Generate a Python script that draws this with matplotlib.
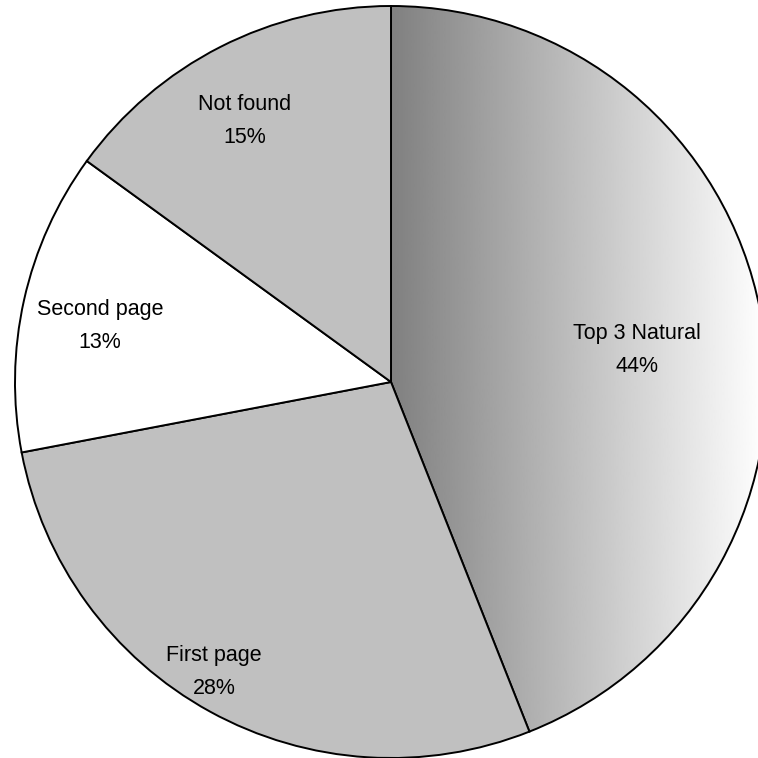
import numpy as np
import matplotlib
matplotlib.use("Agg")
import matplotlib.pyplot as plt

plt.rcParams["font.family"] = ["Liberation Sans", "DejaVu Sans"]

categories = ["Top 3 Natural", "First page", "Second page", "Not found"]
shares = [44, 28, 13, 15]

# label anchors in pixel space (x from left, y from top)
label_xy = [(637, 350), (214, 672), (100, 326), (245, 121)]

W = H = 758
fig = plt.figure(figsize=(W / 100, H / 100), dpi=100)
ax = fig.add_axes([0, 0, 1, 1])

cx, cy, R = 391, 376, 376
colors = ["none", "#c0c0c0", "#ffffff", "#c0c0c0"]
wedges, _ = ax.pie(shares, startangle=90, counterclock=False,
                   center=(cx, cy), radius=R, colors=colors, frame=True,
                   wedgeprops=dict(edgecolor="black", linewidth=1.4))

# horizontal grey-to-white gradient inside the first slice
grad = np.linspace(128 / 255, 1.0, 256).reshape(1, -1)
img = ax.imshow(grad, extent=(cx, cx + R, cy - R, cy + R), cmap="gray",
                vmin=0, vmax=1, aspect="auto", zorder=0.5,
                interpolation="bilinear")
img.set_clip_path(wedges[0])

for (px, py), name, s in zip(label_xy, categories, shares):
    ax.text(px, H - py, f"{name}\n{s}%", ha="center", va="center",
            fontsize=15.5, linespacing=1.7, zorder=5)

ax.set_xlim(0, W)
ax.set_ylim(0, H)
ax.set_aspect("equal")
ax.axis("off")

fig.savefig("out.png", dpi=100, facecolor="white")
